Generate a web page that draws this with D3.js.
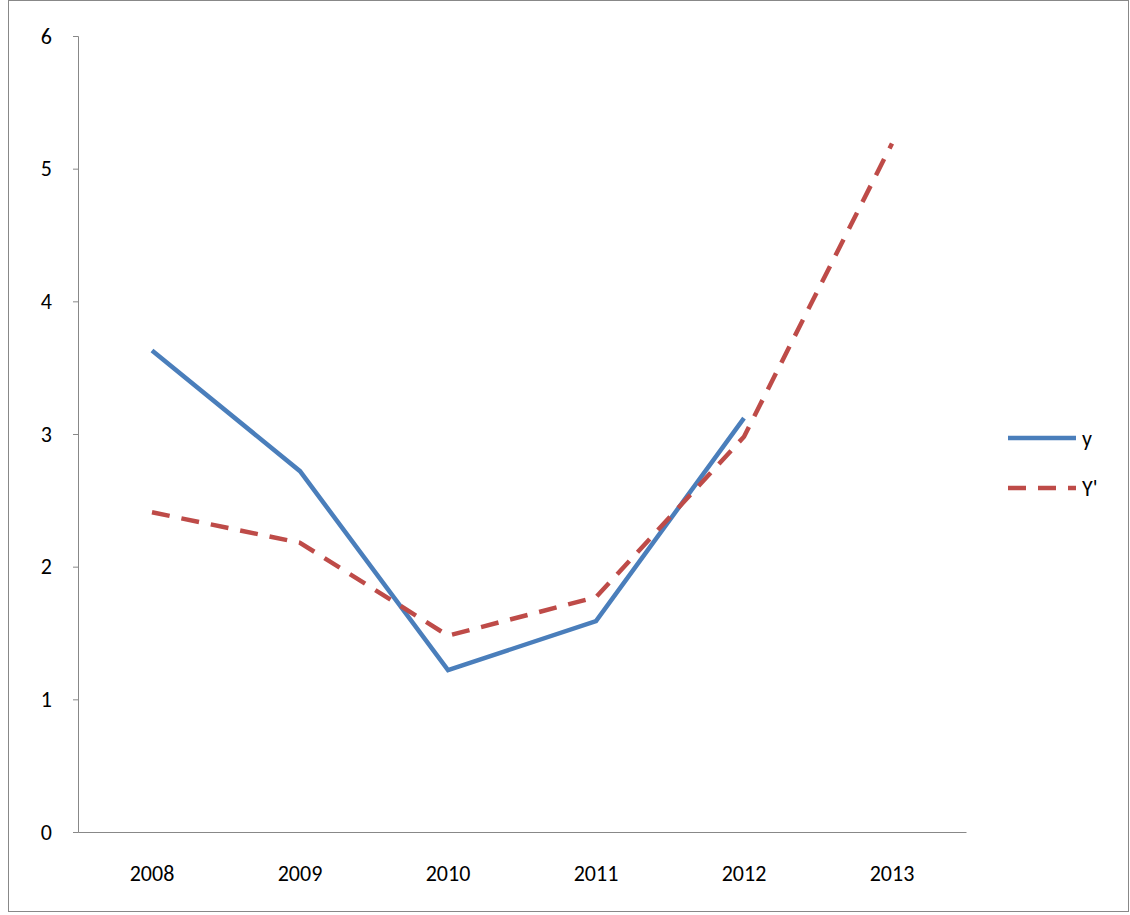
<!DOCTYPE html>
<html>
<head>
<meta charset="utf-8">
<script src="https://cdn.jsdelivr.net/npm/d3@7"></script>
<style>
  body { margin: 0; background: #fff; }
  text { font-family: Calibri, Carlito, "Liberation Sans", sans-serif; }
</style>
</head>
<body>
<div id="chart"></div>
<script>
// chart data
var years = ["2008", "2009", "2010", "2011", "2012", "2013"];
var yValues = [3.63, 2.72, 1.22, 1.59, 3.12, null];
var yPrimeValues = [2.41, 2.18, 1.48, 1.77, 2.98, 5.19];
var yTicks = [0, 1, 2, 3, 4, 5, 6];

var W = 1130, H = 915;
var margin = {top: 36, left: 78, right: 164, bottom: 83};

var svg = d3.select("#chart").append("svg")
	.attr("width", W).attr("height", H);

// outer frame
svg.append("rect")
	.attr("x", 8.5).attr("y", 0.5)
	.attr("width", W - 10).attr("height", H - 4)
	.attr("fill", "none").attr("stroke", "#888");

var x = d3.scaleBand().domain(years)
	.range([margin.left, W - margin.right]);
var y = d3.scaleLinear().domain([0, 6])
	.range([H - margin.bottom, margin.top]);

// y axis
var yAxis = svg.append("g")
	.attr("transform", "translate(" + margin.left + ",0)")
	.call(d3.axisLeft(y).tickValues(yTicks).tickSize(5).tickFormat(d3.format("d")));
yAxis.selectAll("path, line").attr("stroke", "#888");
yAxis.selectAll("text").attr("font-size", 22).attr("fill", "#000").attr("dx", -18);

// x axis
var xAxis = svg.append("g")
	.attr("transform", "translate(0," + y(0) + ")")
	.call(d3.axisBottom(x).tickSize(0).tickPadding(33));
xAxis.selectAll("path").attr("stroke", "#888");
xAxis.selectAll("text").attr("font-size", 22).attr("fill", "#000");

function cx(i) { return x(years[i]) + x.bandwidth() / 2; }

var line = d3.line()
	.defined(function(d) { return d != null; })
	.x(function(d, i) { return cx(i); })
	.y(function(d) { return y(d); });

svg.append("path").datum(yValues)
	.attr("fill", "none").attr("stroke", "#4a7ebb")
	.attr("stroke-width", 4.5).attr("d", line);

svg.append("path").datum(yPrimeValues)
	.attr("fill", "none").attr("stroke", "#be4b48")
	.attr("stroke-width", 4.5).attr("stroke-dasharray", "18,12")
	.attr("d", line);

// legend
var legend = [
	{name: "y", color: "#4a7ebb", dash: null, yPos: 438},
	{name: "Y'", color: "#be4b48", dash: "18,12", yPos: 488}
];
legend.forEach(function(l) {
	svg.append("line")
		.attr("x1", 1008).attr("x2", 1076)
		.attr("y1", l.yPos).attr("y2", l.yPos)
		.attr("stroke", l.color).attr("stroke-width", 4.5)
		.attr("stroke-dasharray", l.dash);
	svg.append("text")
		.attr("x", 1082).attr("y", l.yPos + 8)
		.attr("font-size", 22).text(l.name);
});
</script>
</body>
</html>
